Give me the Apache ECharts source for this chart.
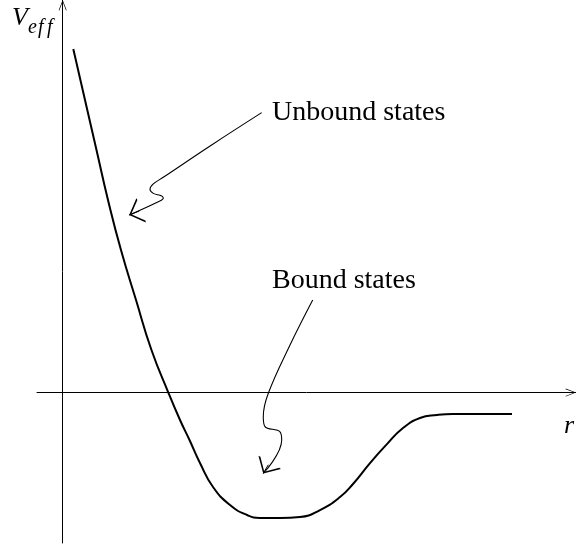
<!DOCTYPE html>
<html><head><meta charset="utf-8">
<script src="https://cdn.jsdelivr.net/npm/echarts@6/dist/echarts.min.js"></script>
<style>html,body{margin:0;padding:0;background:#fff}#c{width:576px;height:548px}</style>
</head><body><div id="c"></div>
<script>
// Effective potential curve (r, V_eff)
const curveR = [0.207,0.435,0.659,0.883,1.136,1.429,1.730,2.062,2.286,2.471,2.675,2.929,3.260,3.591,3.844,4.234,4.623,5.013,5.403,5.656,5.987,6.318,6.630,6.961,7.292,7.604,8.753];
const curveV = [2.625,2.236,1.854,1.472,1.089,0.707,0.325,-0.004,-0.210,-0.363,-0.539,-0.722,-0.860,-0.936,-0.959,-0.959,-0.952,-0.898,-0.799,-0.699,-0.539,-0.394,-0.271,-0.195,-0.172,-0.164,-0.164];
// Annotation pointer "Unbound states"
const unboundR = [3.877,2.909,1.960,1.766,1.701,1.766,1.929,1.960,1.863,1.298];
const unboundV = [2.139,1.894,1.645,1.594,1.553,1.522,1.502,1.484,1.458,1.357];
const unboundHead = [[1.493,1.387],[1.298,1.357]];
// Annotation pointer "Bound states"
const boundR = [4.871,4.429,4.006,3.908,3.941,4.234,4.267,3.908];
const boundV = [0.707,0.363,-0.006,-0.185,-0.261,-0.300,-0.363,-0.618];
const boundHead = [[4.006,-0.552],[3.908,-0.618]];
// Labels
const labelUnbound = 'Unbound states';
const labelBound = 'Bound states';

const zip = (a, b) => a.map((v, i) => [v, b[i]]);
const chevron = 'path://M5,0L5.01,0Z M5,13L10,26L9.2,26.3L5,15.2L0.8,26.3L0,26Z';
const serif = '"Liberation Serif", "DejaVu Serif", serif';
const txt = (t, x, y, font) => ({ type: 'text', x: x, y: y, silent: true,
  style: { text: t, font: font, fill: '#000', align: 'left', verticalAlign: 'middle' } });

const chart = echarts.init(document.getElementById('c'));
chart.setOption({
  animation: false,
  backgroundColor: '#fff',
  grid: { left: 37, right: 0, top: 0, bottom: 5, containLabel: false },
  xAxis: {
    type: 'value', min: -0.5, max: 10,
    axisLine: { onZero: true, symbol: ['none', chevron], symbolSize: [8, 21], lineStyle: { color: '#000', width: 1 } },
    axisTick: { show: false }, axisLabel: { show: false }, splitLine: { show: false }
  },
  yAxis: {
    type: 'value', min: -1.15, max: 3,
    axisLine: { onZero: true, symbol: ['none', chevron], symbolSize: [8, 21], lineStyle: { color: '#000', width: 1 } },
    axisTick: { show: false }, axisLabel: { show: false }, splitLine: { show: false }
  },
  series: [
    { type: 'line', data: zip(curveR, curveV), smooth: 0.5, symbol: 'none', silent: true,
      lineStyle: { color: '#000', width: 2 } },
    { type: 'line', data: zip(unboundR, unboundV), smooth: 0.4, symbol: 'none', silent: true,
      lineStyle: { color: '#000', width: 1.1 } },
    { type: 'line', data: zip(boundR, boundV), smooth: 0.4, symbol: 'none', silent: true,
      lineStyle: { color: '#000', width: 1.1 } },
    { type: 'lines', coordinateSystem: 'cartesian2d', silent: true,
      symbol: ['none', chevron], symbolSize: [10, 26],
      lineStyle: { color: '#000', width: 1, opacity: 1 },
      data: [{ coords: unboundHead }, { coords: boundHead }] }
  ],
  graphic: [
    txt('V', 12, 18, 'italic 26px ' + serif),
    txt('e', 28, 28, 'italic 20px ' + serif),
    txt('f', 38, 28, 'italic 20px ' + serif),
    txt('f', 47, 28, 'italic 20px ' + serif),
    txt(labelUnbound, 272, 113, '28px ' + serif),
    txt(labelBound, 272, 281, '28px ' + serif),
    txt('r', 564, 426, 'italic 26px ' + serif)
  ]
});
</script></body></html>
